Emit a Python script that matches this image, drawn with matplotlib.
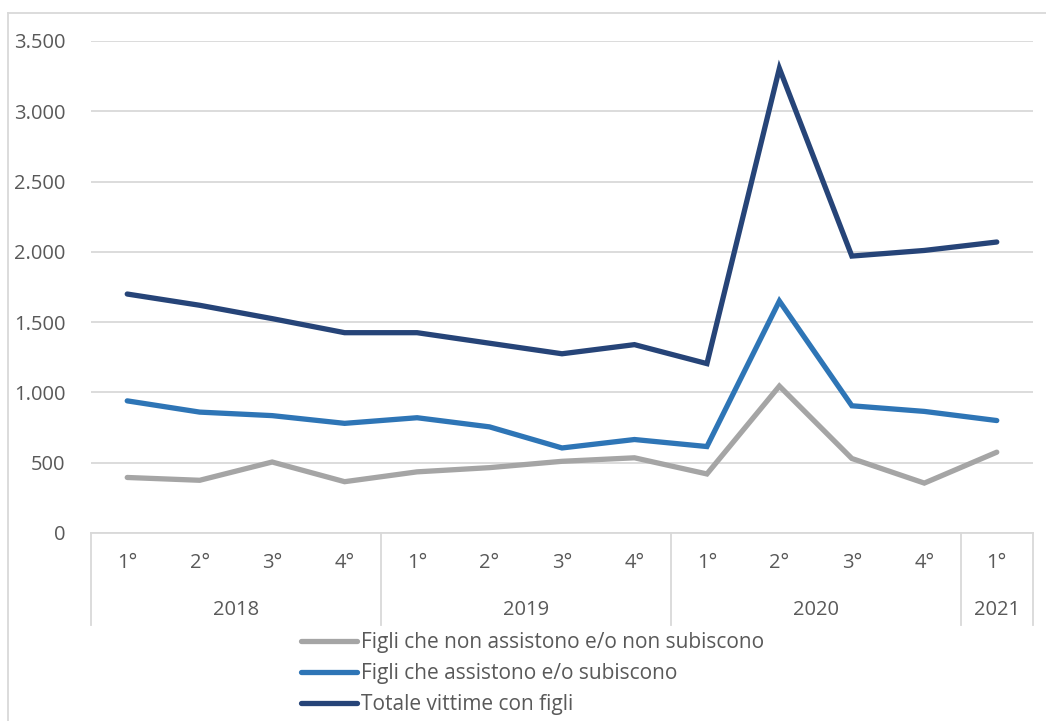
import matplotlib
matplotlib.use("Agg")
import matplotlib.pyplot as plt
import matplotlib.transforms as mtransforms

plt.rcParams['font.family'] = ['Open Sans', 'DejaVu Sans']

# data
quarters = ["1°", "2°", "3°", "4°", "1°", "2°", "3°", "4°", "1°", "2°", "3°", "4°", "1°"]
years = ["2018", "2019", "2020", "2021"]
year_sizes = [4, 4, 4, 1]
non_assistono = [395, 375, 505, 365, 435, 465, 510, 535, 420, 1045, 530, 355, 575]
assistono = [940, 860, 835, 780, 820, 755, 605, 665, 615, 1650, 905, 865, 800]
totale = [1700, 1620, 1525, 1425, 1425, 1350, 1275, 1340, 1205, 3305, 1970, 2010, 2070]

labels = ["Figli che non assistono e/o non subiscono",
          "Figli che assistono e/o subiscono",
          "Totale vittime con figli"]
colors = ["#A5A5A5", "#2E75B6", "#264478"]
txt = "#595959"
grid = "#D9D9D9"
fs = 14.5

fig = plt.figure(figsize=(10.46, 7.21), dpi=100)
ax = fig.add_axes([91 / 1046, 1 - 533 / 721, (1033 - 91) / 1046, (533 - 41) / 721])

x = list(range(len(quarters)))
for ys, lab, c in zip([non_assistono, assistono, totale], labels, colors):
    ax.plot(x, ys, color=c, lw=3.8, label=lab, solid_capstyle='round', solid_joinstyle='miter')

ax.set_xlim(-0.5, len(quarters) - 0.5)
ax.set_ylim(0, 3500)
ax.set_yticks(range(0, 3501, 500))
ax.set_yticklabels([f"{v:,}".replace(",", ".") for v in range(0, 3501, 500)])
ax.yaxis.grid(True, color=grid, lw=1.3)
ax.set_axisbelow(True)
for s in ["top", "right", "left"]:
    ax.spines[s].set_visible(False)
ax.spines["bottom"].set_color(grid)
ax.spines["bottom"].set_linewidth(1.3)
ax.tick_params(axis='y', length=0, pad=18.5, labelsize=fs, labelcolor=txt)
ax.tick_params(axis='x', length=0)
ax.set_xticks([])

# multi-level category axis
trans = mtransforms.blended_transform_factory(ax.transData, ax.transAxes)
for xi, q in zip(x, quarters):
    ax.text(xi, -0.061, q, transform=trans, ha='center', va='center', fontsize=fs, color=txt)
start = 0
bounds = [-0.5]
for yr, n in zip(years, year_sizes):
    mid = start + (n - 1) / 2
    ax.text(mid, -0.157, yr, transform=trans, ha='center', va='center', fontsize=fs, color=txt)
    start += n
    bounds.append(start - 0.5)
for b in bounds:
    ax.plot([b, b], [0, -0.187], transform=trans, color=grid, lw=1.3, clip_on=False)

# outer chart frame (left and top)
fig.add_artist(plt.Line2D([8 / 1046, 8 / 1046], [0, 1 - 13 / 721], color=grid, lw=1.3))
fig.add_artist(plt.Line2D([8 / 1046, 1], [1 - 13 / 721, 1 - 13 / 721], color=grid, lw=1.3))

leg = fig.legend(loc='upper left', bbox_to_anchor=(301 / 1046, 1 - 632 / 721),
                 frameon=False, fontsize=15, labelcolor=txt, handlelength=2.7,
                 handletextpad=0.2, labelspacing=0.48, borderpad=0, borderaxespad=0)

fig.savefig("out.png", dpi=100)
